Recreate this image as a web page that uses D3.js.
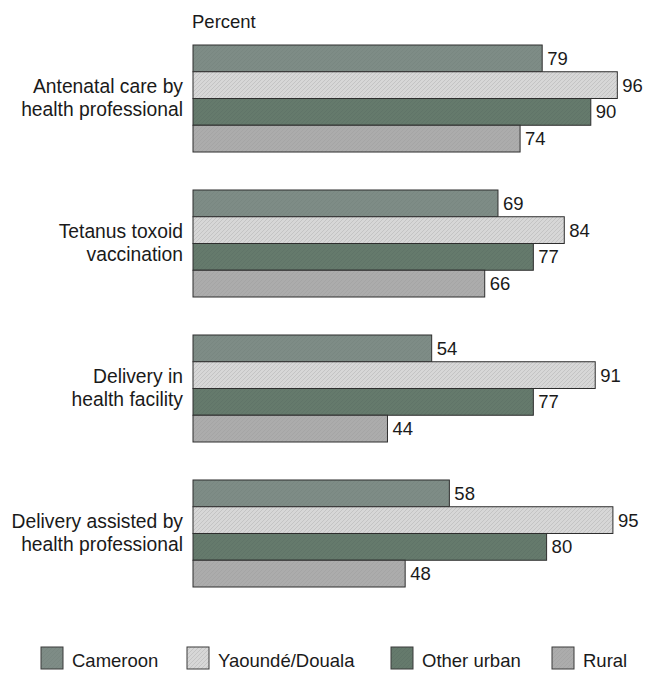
<!DOCTYPE html>
<html>
<head>
<meta charset="utf-8">
<script src="https://cdn.jsdelivr.net/npm/d3@7"></script>
<style>
  html, body { margin: 0; padding: 0; background: #fff; }
  svg { display: block; }
  text { font-family: "Liberation Sans", Arial, Helvetica, sans-serif; fill: #1a1a1a; }
</style>
</head>
<body>
<svg id="chart" width="645" height="673"></svg>
<script>
// Indicator categories (two-line labels)
const categories = [
  ["Antenatal care by", "health professional"],
  ["Tetanus toxoid", "vaccination"],
  ["Delivery in", "health facility"],
  ["Delivery assisted by", "health professional"]
];
const seriesNames = ["Cameroon", "Yaoundé/Douala", "Other urban", "Rural"];

// Percent values per series, in category order
const cameroon      = [79, 69, 54, 58];
const yaoundeDouala = [96, 84, 91, 95];
const otherUrban    = [90, 77, 77, 80];
const rural         = [74, 66, 44, 48];

const seriesValues = [cameroon, yaoundeDouala, otherUrban, rural];
const seriesFill   = ["#7e8c86", "#d7d7d7", "#657a6c", "#acacac"];
const seriesHatch  = ["#75837d", "#c2c2c2", "#5d7164", "#a1a1a1"];

const svg = d3.select("#chart");
const defs = svg.append("defs");

// Diagonal hatch patterns, one per series
seriesFill.forEach((c, i) => {
  const p = defs.append("pattern")
    .attr("id", "hatch" + i)
    .attr("patternUnits", "userSpaceOnUse")
    .attr("width", 4).attr("height", 4);
  p.append("rect").attr("width", 4).attr("height", 4).attr("fill", c);
  p.append("path")
    .attr("d", "M-1,1 l2,-2 M0,4 l4,-4 M3,5 l2,-2")
    .attr("stroke", seriesHatch[i])
    .attr("stroke-width", i === 1 ? 0.9 : 0.6);
});

const x = d3.scaleLinear().domain([0, 100]).range([193, 635]);
const y0 = d3.scaleBand()
  .domain(d3.range(categories.length))
  .range([45, 587])
  .paddingInner(0.262)
  .paddingOuter(0);
const y1 = d3.scaleBand()
  .domain(d3.range(seriesNames.length))
  .range([0, y0.bandwidth()]);

// Axis title
svg.append("text")
  .attr("x", 192).attr("y", 28)
  .attr("font-size", 18.5)
  .text("Percent");

const groups = svg.selectAll("g.group")
  .data(categories)
  .join("g")
  .attr("class", "group")
  .attr("transform", (d, i) => `translate(0,${y0(i)})`);

// Category labels, right-aligned left of the bars
groups.append("text")
  .attr("text-anchor", "end")
  .attr("font-size", 19.3)
  .selectAll("tspan")
  .data(d => d)
  .join("tspan")
  .attr("x", 183)
  .attr("y", (d, j) => y0.bandwidth() / 2 - 5.5 + j * 23)
  .text(d => d);

// Bars
groups.each(function(cat, ci) {
  const g = d3.select(this);
  const rows = seriesValues.map((vals, si) => ({ si, v: vals[ci] }));
  g.selectAll("rect.bar")
    .data(rows)
    .join("rect")
    .attr("class", "bar")
    .attr("x", x(0))
    .attr("y", d => y1(d.si))
    .attr("width", d => x(d.v) - x(0))
    .attr("height", y1.bandwidth())
    .attr("fill", d => `url(#hatch${d.si})`)
    .attr("stroke", "#2e2e2e")
    .attr("stroke-width", 1);
  g.selectAll("text.val")
    .data(rows)
    .join("text")
    .attr("class", "val")
    .attr("x", d => x(d.v) + 5)
    .attr("y", d => y1(d.si) + y1.bandwidth() / 2 + 6.5)
    .attr("font-size", 18.5)
    .text(d => d.v);
});

// Legend
const legendX = [41, 187, 391, 552];
const legend = svg.selectAll("g.legend")
  .data(seriesNames)
  .join("g")
  .attr("class", "legend")
  .attr("transform", (d, i) => `translate(${legendX[i]},647)`);
legend.append("rect")
  .attr("width", 22).attr("height", 22)
  .attr("fill", (d, i) => `url(#hatch${i})`)
  .attr("stroke", "#3a3a3a")
  .attr("stroke-width", 1);
legend.append("text")
  .attr("x", 31).attr("y", 20)
  .attr("font-size", 18.5)
  .text(d => d);
</script>
</body>
</html>
